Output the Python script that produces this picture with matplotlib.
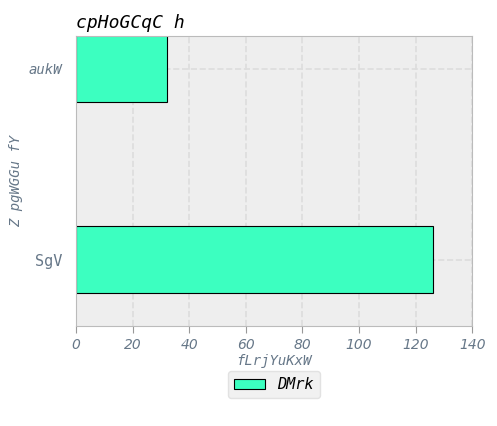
import matplotlib
matplotlib.use("Agg")
import matplotlib.pyplot as plt

# data
cats = ["SgV", "aukW"]
vals = [126, 32]
xticks = [0, 20, 40, 60, 80, 100, 120, 140]

fig = plt.figure(figsize=(4.97, 4.26), dpi=100)
ax = fig.add_axes([0.153, 0.235, 0.797, 0.68])
ax.set_facecolor("#eeeeee")
ax.barh([0, 1], vals, height=0.35, color="#3cffc0", edgecolor="black", linewidth=0.8, label="DMrk", zorder=2)
ax.set_xlim(0, 140)
ax.set_ylim(-0.345, 1.17)
ax.set_yticks([0, 1])
ax.set_yticklabels(cats)
tc = "#667788"
ylab = ax.get_yticklabels()
ylab[0].set_fontsize(11)
ylab[1].set_fontsize(10)
ylab[1].set_fontstyle("italic")
for t in ylab:
    t.set_color(tc)
    t.set_family("DejaVu Sans Mono")
ax.set_xticks(xticks)
ax.set_xticklabels([str(x) for x in xticks], color=tc, fontstyle="italic", fontsize=10)
ax.tick_params(axis="y", length=0, pad=10)
ax.tick_params(axis="x", color="#999999", length=5)
ax.grid(True, linestyle="--", color="#dddddd", linewidth=1.2, zorder=0)
for s in ax.spines.values():
    s.set_color("#bbbbbb")
ax.set_xlabel("fLrjYuKxW", color=tc, fontstyle="italic", family="DejaVu Sans Mono", fontsize=10, labelpad=2)
ax.set_ylabel("Z pgWGGu fY", color=tc, fontstyle="italic", family="DejaVu Sans Mono", fontsize=10)
ax.set_title("cpHoGCqC h", loc="left", fontstyle="italic", family="DejaVu Sans Mono", fontsize=13)
leg = ax.legend(loc="upper center", bbox_to_anchor=(0.5, -0.13), prop={"family": "DejaVu Sans Mono", "style": "italic", "size": 11}, facecolor="#eeeeee", edgecolor="#dddddd")
fig.savefig("out.png", dpi=100)
